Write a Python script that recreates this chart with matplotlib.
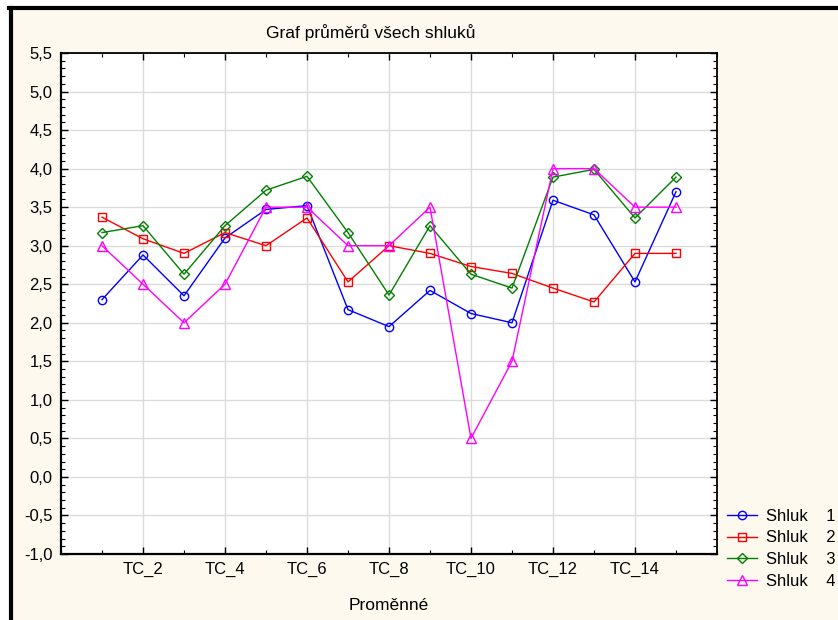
import numpy as np
import matplotlib.pyplot as plt
from matplotlib.lines import Line2D
from matplotlib.patches import Rectangle
from matplotlib.ticker import MultipleLocator

plt.rcParams['font.family'] = ['Liberation Sans', 'DejaVu Sans']

# TC_1 .. TC_15
variables = [f"TC_{i}" for i in range(1, 16)]

shluk1 = [2.30, 2.88, 2.35, 3.10, 3.47, 3.52, 2.17, 1.95, 2.42, 2.12, 2.00, 3.59, 3.40, 2.53, 3.70]
shluk2 = [3.37, 3.09, 2.90, 3.17, 3.00, 3.36, 2.53, 3.00, 2.90, 2.73, 2.64, 2.45, 2.27, 2.90, 2.90]
shluk3 = [3.17, 3.26, 2.63, 3.26, 3.72, 3.90, 3.17, 2.36, 3.26, 2.63, 2.45, 3.89, 3.99, 3.36, 3.89]
shluk4 = [3.00, 2.50, 2.00, 2.50, 3.50, 3.50, 3.00, 3.00, 3.50, 0.50, 1.50, 4.00, 4.00, 3.50, 3.50]

series = [("Shluk    1", shluk1, "#0000ff", "o", 6.0),
          ("Shluk    2", shluk2, "#ff0000", "s", 6.0),
          ("Shluk    3", shluk3, "#008000", "D", 5.2),
          ("Shluk    4", shluk4, "#ff00ff", "^", 6.5)]

y_ticks = [-1.0, -0.5, 0.0, 0.5, 1.0, 1.5, 2.0, 2.5, 3.0, 3.5, 4.0, 4.5, 5.0, 5.5]
y_labels = [f"{v:.1f}".replace(".", ",") for v in y_ticks]

W, H = 838, 620
fig = plt.figure(figsize=(W / 100, H / 100), dpi=100, facecolor="white")

# cream panel with black border on left and top
fig.add_artist(Rectangle((12 / W, 0), 1, 1 - 10 / H, transform=fig.transFigure,
                         facecolor="#fdf9ee", edgecolor="none", zorder=-10))
fig.add_artist(Line2D([10.5 / W, 10.5 / W], [0, 1 - 7.5 / H], transform=fig.transFigure,
                      color="black", lw=3.0))
fig.add_artist(Line2D([9 / W, 1], [1 - 8 / H, 1 - 8 / H], transform=fig.transFigure,
                      color="black", lw=3.0))

ax = fig.add_axes([61 / W, 1 - 554 / H, (717 - 61) / W, (554 - 53) / H])
ax.set_facecolor("white")

x = np.arange(1, len(variables) + 1)
for name, vals, col, mk, ms in series:
    ax.plot(x, vals, color=col, lw=1.0, marker=mk, markersize=ms,
            markerfacecolor="none", markeredgecolor=col, markeredgewidth=1.0,
            label=name)

ax.set_xlim(0, 16)
ax.set_ylim(-1.0, 5.5)
ax.set_xticks(x[1::2])
ax.set_xticklabels(variables[1::2], fontsize=12)
ax.xaxis.set_minor_locator(MultipleLocator(1))
ax.set_yticks(y_ticks)
ax.set_yticklabels(y_labels, fontsize=12)
ax.yaxis.set_minor_locator(MultipleLocator(0.1))

ax.grid(True, which="major", color="#dcdcdc", lw=1.0)
ax.set_axisbelow(True)

ax.tick_params(which="both", direction="in", top=True, right=True, color="black")
ax.tick_params(which="major", length=5, width=1.0, pad=6)
ax.tick_params(which="minor", length=3, width=0.8)
for side in ["left", "bottom"]:
    ax.spines[side].set_linewidth(1.6)
for side in ["top", "right"]:
    ax.spines[side].set_linewidth(1.3)

fig.text(371 / W, 1 - 33 / H, "Graf průměrů všech shluků", ha="center", va="center", fontsize=12.5)
fig.text(389 / W, 1 - 605 / H, "Proměnné", ha="center", va="center", fontsize=12.5)

fig.legend(loc="upper left", bbox_to_anchor=(727 / W, 1 - 509 / H), frameon=False,
           fontsize=12, handlelength=1.8, handletextpad=0.55, labelspacing=0.39,
           borderpad=0, borderaxespad=0)

fig.savefig("out.png", dpi=100, facecolor="white")
